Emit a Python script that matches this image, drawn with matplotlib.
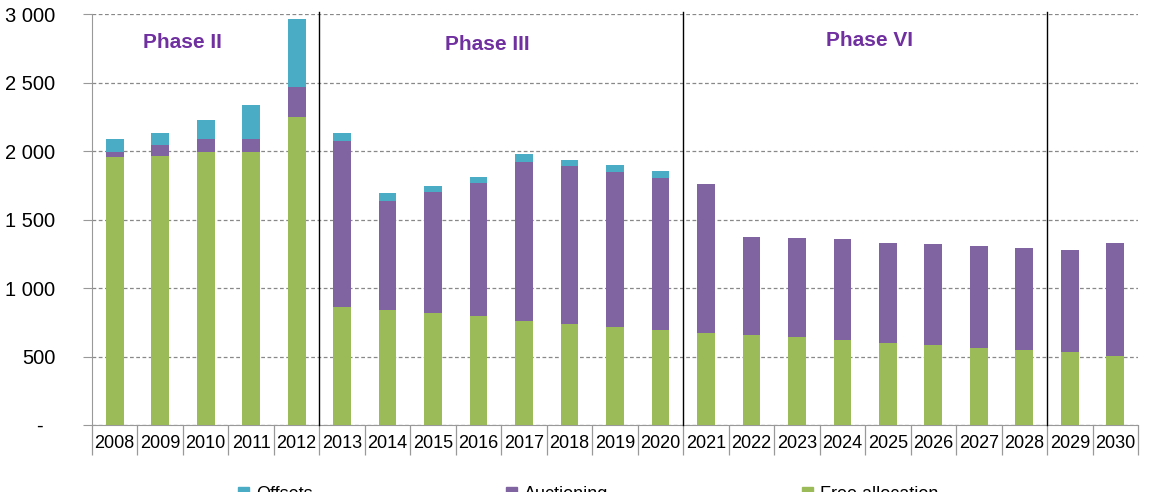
import numpy as np
import matplotlib.pyplot as plt
from matplotlib.patches import Patch

plt.rcParams['font.family'] = ['Liberation Sans', 'DejaVu Sans']

years = [str(y) for y in range(2008, 2031)]
free_allocation = [1955, 1965, 1995, 1995, 2250, 860, 840, 815, 795, 760, 740, 715, 695,
                   675, 660, 640, 620, 600, 585, 565, 545, 530, 505]
auctioning = [40, 77, 91, 91, 217, 1215, 797, 888, 972, 1162, 1148, 1130, 1110,
              1085, 715, 725, 735, 730, 735, 745, 745, 750, 825]
offsets = [92, 87, 143, 252, 495, 54, 54, 42, 46, 54, 44, 53, 49,
           0, 0, 0, 0, 0, 0, 0, 0, 0, 0]
phase_names = ['Phase II', 'Phase III', 'Phase VI']
phase_label_x = [1.48, 8.2, 16.6]      # category index the label is centred over
phase_label_y = [2795, 2775, 2810]
phase_breaks = [4.5, 12.5, 20.5]       # between 2012|2013, 2020|2021, 2028|2029
yticks = [0, 500, 1000, 1500, 2000, 2500, 3000]
ytick_labels = ['-  ', '500', '1 000', '1 500', '2 000', '2 500', '3 000']

c_free = '#9BBB59'
c_auct = '#8064A2'
c_off = '#4BACC6'

fig = plt.figure(figsize=(11.49, 4.92), dpi=100)
ax = fig.add_axes([92 / 1149, 67 / 492, (1138 - 92) / 1149, 411 / 492])

x = np.arange(len(years))
free = np.array(free_allocation)
auct = np.array(auctioning)
off = np.array(offsets)
w = 0.39
ax.bar(x, free, w, color=c_free, zorder=3)
ax.bar(x, auct, w, bottom=free, color=c_auct, zorder=3)
ax.bar(x, off, w, bottom=free + auct, color=c_off, zorder=3)

ax.set_xlim(-0.5, len(years) - 0.5)
ax.set_ylim(0, 3000)

# grid
ax.set_yticks(yticks)
ax.set_yticklabels(ytick_labels, fontsize=14.5)
ax.yaxis.grid(True, linestyle=(0, (3, 2)), color='#888888', linewidth=0.9, zorder=0)
ax.tick_params(axis='y', length=6.5, color='#999999', pad=20)

# x labels in table-like cells
ax.set_xticks(x)
ax.set_xticklabels(years, fontsize=13)
ax.tick_params(axis='x', length=0, pad=7)
ax.set_xticks(np.arange(-0.5, len(years)), minor=True)
ax.tick_params(axis='x', which='minor', length=21.5, color='#999999', width=0.9)

for s in ['top', 'right']:
    ax.spines[s].set_visible(False)
ax.spines['left'].set_color('#999999')
ax.spines['bottom'].set_color('#999999')

# phase separators
for b in phase_breaks:
    ax.plot([b, b], [0, 3015], color='black', linewidth=1.0, clip_on=False, zorder=4)

for name, px, py in zip(phase_names, phase_label_x, phase_label_y):
    ax.text(px, py, name, color='#7030A0', fontsize=15, fontweight='bold',
            ha='center', va='center')

handles = [Patch(color=c_off, label='Offsets'),
           Patch(color=c_auct, label='Auctioning'),
           Patch(color=c_free, label='Free allocation')]
fig.legend(handles=handles, loc='center', bbox_to_anchor=(0.512, -0.006), ncol=3,
           frameon=False, fontsize=13, handlelength=0.6, handleheight=0.6,
           handletextpad=0.4, columnspacing=10.7)

fig.savefig('out.png', dpi=100)
